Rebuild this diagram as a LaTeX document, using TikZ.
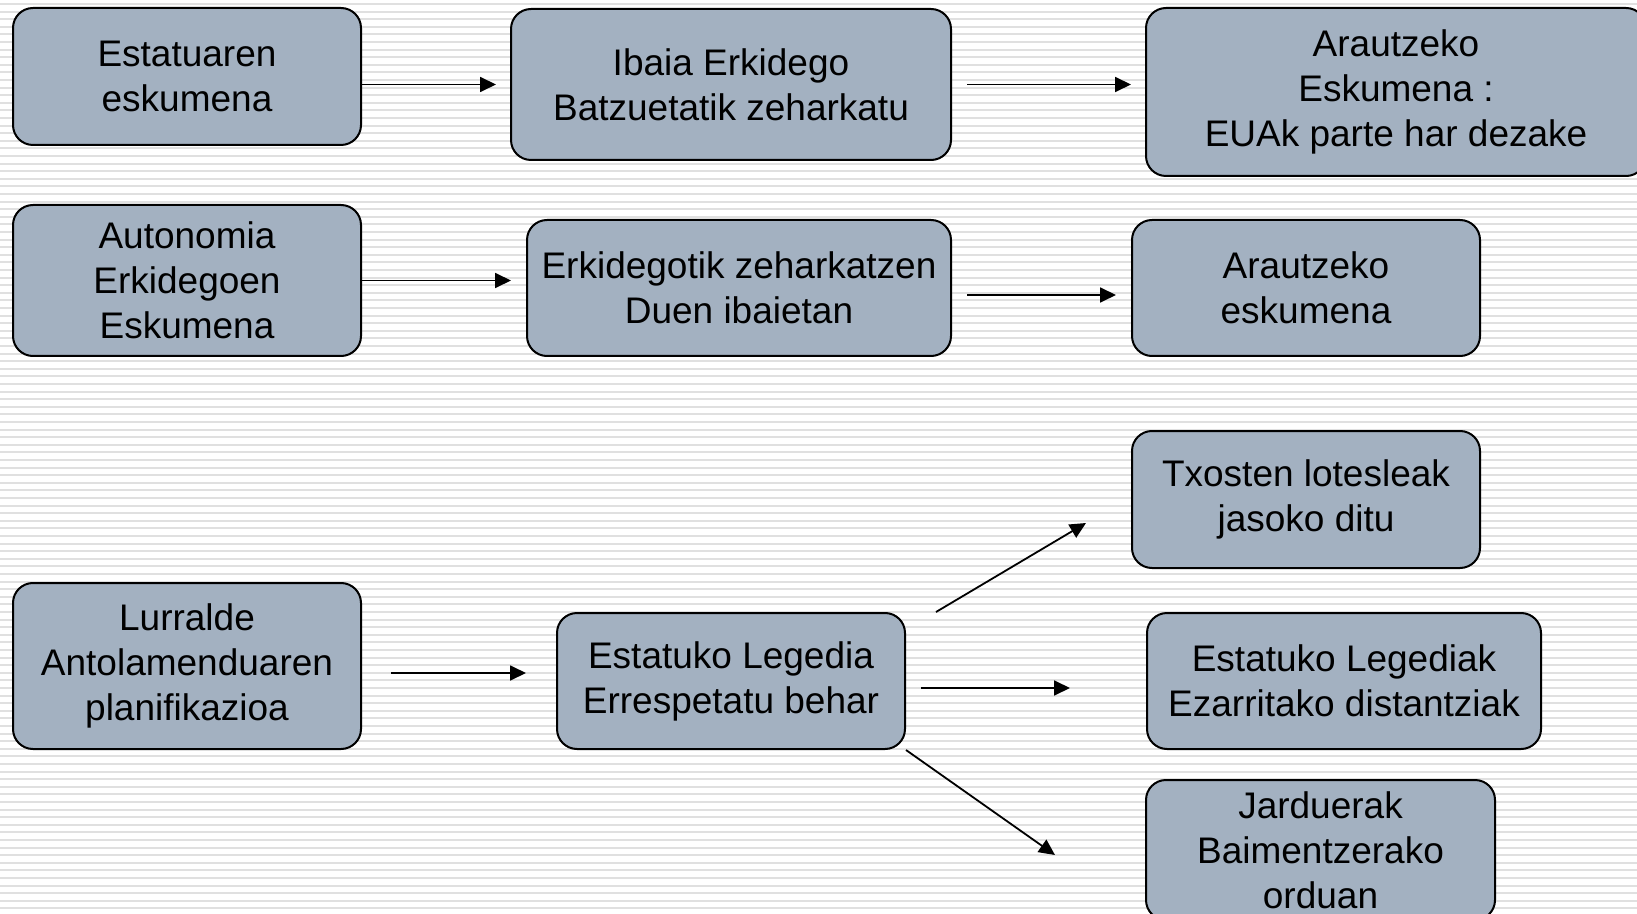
\documentclass[tikz,border=0pt]{standalone}
\usepackage{fontspec}
\setmainfont{Liberation Sans}
\usetikzlibrary{arrows.meta}
\definecolor{boxfill}{RGB}{163,177,193}
\definecolor{stripe}{RGB}{224,224,224}
\tikzset{
  box/.style={draw=black, line width=1pt, fill=boxfill, rounded corners=10pt,
    align=center, inner sep=0pt, font=\fontsize{18.5}{22.5}\selectfont},
  conn/.style={draw=black, line width=0.9pt, -{Triangle[length=8pt,width=7.5pt]}},
}
\begin{document}
\begin{tikzpicture}[x=0.5pt,y=-0.5pt]
\useasboundingbox (0,0) rectangle (1637,914);
\clip (0,0) rectangle (1637,914);
\fill[white] (0,0) rectangle (1637,914);
\foreach \i in {0,...,120} {
  \draw[stripe, line width=1pt] (0,{4+\i*7.6}) -- (1637,{4+\i*7.6});
}
% boxes
\node[box, minimum width=174pt, minimum height=68.5pt] (b1) at (187,76.5) {Estatuaren\\eskumena};
\node[box, minimum width=220pt, minimum height=75.5pt] (b2) at (731,84.5) {Ibaia Erkidego\\Batzuetatik zeharkatu};
\node[box, minimum width=250pt, minimum height=84pt] (b3) at (1396,92) {Arautzeko\\Eskumena :\\EUAk parte har dezake};
\node[box, minimum width=174pt, minimum height=75.5pt] (b4) at (187,280.5) {Autonomia\\Erkidegoen\\Eskumena};
\node[box, minimum width=212pt, minimum height=68pt] (b5) at (739,288) {Erkidegotik zeharkatzen\\Duen ibaietan};
\node[box, minimum width=174pt, minimum height=68pt] (b6) at (1306,288) {Arautzeko\\eskumena};
\node[box, minimum width=174pt, minimum height=68.5pt] (b7) at (1306,499.5) {Txosten lotesleak\\jasoko ditu};
\node[box, minimum width=174pt, minimum height=83pt] (b8) at (187,666) {Lurralde\\Antolamenduaren\\planifikazioa};
\node[box, minimum width=174pt, minimum height=68pt] (b9) at (731,681) {Estatuko Legedia\\Errespetatu behar};
\node[box, minimum width=197pt, minimum height=68pt] (b10) at (1344,681) {Estatuko Legediak\\Ezarritako distantziak};
\node[box, minimum width=174.5pt, minimum height=70pt] (b11) at (1320.5,850) {Jarduerak\\Baimentzerako\\orduan};
% connectors
\draw[conn, shorten >=7pt] (b1.east |- b2.west) -- (b2.west);
\draw[conn, shorten <=7.5pt, shorten >=7pt] (b2.east) -- (b2.east -| b3.west);
\draw[conn, shorten >=7.5pt] (b4.east) -- (b4.east -| b5.west);
\draw[conn, shorten <=7.5pt, shorten >=7.5pt] ([yshift=-3.5pt]b5.east) -- ([yshift=-3.5pt]b6.west);
\draw[conn, shorten <=14.5pt, shorten >=15pt] ([yshift=-3.5pt]b8.east) -- ([yshift=-3.5pt]b8.east -| b9.west);
\draw[conn] ([xshift=15pt]b9.north east) -- ([xshift=-22.5pt,yshift=-11.75pt]b7.west);
\draw[conn, shorten <=7.5pt, shorten >=38pt] ([yshift=-3.5pt]b9.east) -- ([yshift=-3.5pt]b10.west);
\draw[conn] (b9.south east) -- ([xshift=-45pt,yshift=-2.5pt]b11.west);
\end{tikzpicture}
\end{document}
